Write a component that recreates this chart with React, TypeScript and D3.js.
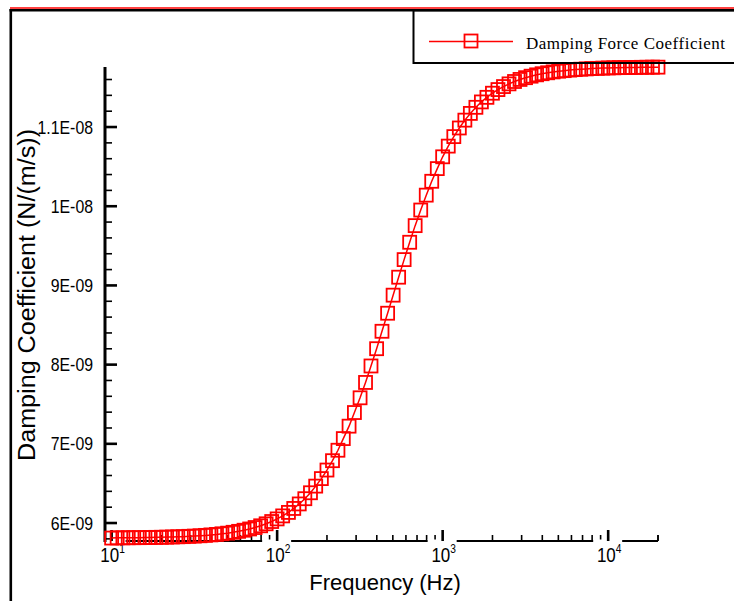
import React from "react";
import * as d3 from "d3";

// frequency (Hz) of each sample
const frequencies = [
  10, 10.8, 11.7, 12.6, 13.6, 14.7, 15.9, 17.1, 18.5, 20.0,
  21.5, 23.3, 25.1, 27.1, 29.3, 31.6, 34.2, 36.9, 39.8, 43.0,
  46.4, 50.2, 54.2, 58.5, 63.1, 68.2, 73.6, 79.5, 85.8, 92.7,
  100, 108, 117, 126, 136, 147, 159, 171, 185, 200,
  216, 233, 251, 272, 293, 317, 342, 369, 399, 430,
  465, 502, 542, 585, 632, 682, 737, 796, 859, 928,
  1000, 1081, 1168, 1261, 1362, 1470, 1588, 1714, 1851, 1999,
  2158, 2331, 2517, 2717, 2934, 3169, 3421, 3694, 3989, 4308,
  4651, 5023, 5423, 5856, 6324, 6828, 7373, 7962, 8597, 9283,
  10022, 10822, 11686, 12618, 13625, 14712, 15886, 17154, 18523, 20000,
];

// damping coefficient, in 1E-09 N/(m/s)
const damping = [
  5.81, 5.813, 5.813, 5.814, 5.815, 5.815, 5.816, 5.817, 5.819, 5.82,
  5.822, 5.824, 5.826, 5.828, 5.832, 5.835, 5.839, 5.844, 5.85, 5.856,
  5.864, 5.872, 5.883, 5.895, 5.909, 5.925, 5.943, 5.965, 5.99, 6.019,
  6.052, 6.09, 6.134, 6.184, 6.241, 6.307, 6.382, 6.466, 6.561, 6.669,
  6.787, 6.919, 7.066, 7.223, 7.395, 7.581, 7.775, 7.983, 8.201, 8.421,
  8.649, 8.877, 9.104, 9.326, 9.545, 9.755, 9.952, 10.14, 10.315, 10.475,
  10.624, 10.759, 10.879, 10.988, 11.087, 11.172, 11.249, 11.317, 11.375, 11.427,
  11.473, 11.511, 11.545, 11.575, 11.601, 11.623, 11.642, 11.659, 11.673, 11.685,
  11.696, 11.705, 11.712, 11.719, 11.725, 11.73, 11.734, 11.738, 11.741, 11.744,
  11.746, 11.748, 11.75, 11.751, 11.752, 11.753, 11.754, 11.755, 11.756, 11.756,
];

const yTickValues = [6e-9, 7e-9, 8e-9, 9e-9, 1e-8, 1.1e-8];
const yTickLabels = ["6E-09", "7E-09", "8E-09", "9E-09", "1E-08", "1.1E-08"];
const xDecades = [10, 100, 1000, 10000];
const xDecadeExponents = ["1", "2", "3", "4"];
const seriesName = "Damping Force Coefficient";
const xTitle = "Frequency (Hz)";
const yTitle = "Damping Coefficient (N/(m/s))";

const W = 734;
const H = 601;
const RED = "#ff0000";
const SANS = "'Liberation Sans', Arial, sans-serif";

export default function App() {
  const x = d3.scaleLog().domain([Math.pow(10, 0.96), 20000]).range([105, 658]);
  const y = d3.scaleLinear().domain([5.773e-9, 11.758e-9]).range([541, 67]);
  const axisY = y.range()[0];
  const axisX = x.range()[0];

  const points = frequencies.map((f, i) => ({ f, v: damping[i] * 1e-9 }));
  const line = d3
    .line<{ f: number; v: number }>()
    .x((d) => x(d.f))
    .y((d) => y(d.v));

  // minor ticks
  const xMinor: number[] = [];
  xDecades.forEach((d) => {
    for (let m = 2; m <= 9; m++) if (d * m <= 20000) xMinor.push(d * m);
  });
  const yMinor = d3
    .range(58, 118, 2)
    .map((k) => k * 1e-10)
    .filter((v) => !yTickValues.some((t) => Math.abs(t - v) < 1e-12));

  const mk = 13;

  return (
    <svg width={W} height={H} style={{ position: "absolute", left: 0, top: 0, background: "#fff" }}>
      <rect x={0} y={0} width={W} height={H} fill="#fff" />

      {/* outer frame */}
      <line x1={10} x2={W} y1={8} y2={8} stroke={RED} strokeWidth={1.5} />
      <line x1={9.5} x2={W} y1={10.3} y2={10.3} stroke="#000" strokeWidth={2.5} />
      <line x1={10.8} x2={10.8} y1={9} y2={H} stroke="#000" strokeWidth={2.6} />

      {/* x axis */}
      <line x1={axisX} x2={x.range()[1]} y1={axisY} y2={axisY} stroke="#000" strokeWidth={2.2} />
      {xMinor.map((t) => (
        <line key={"xm" + t} x1={x(t)} x2={x(t)} y1={axisY} y2={axisY - 6} stroke="#000" strokeWidth={1.6} />
      ))}
      {xDecades.map((t) => (
        <rect key={"xg" + t} x={x(t) - 15} y={axisY - 1.5} width={29} height={26} fill="#fff" />
      ))}
      {xDecades.map((t, i) => (
        <g key={"xt" + t}>
          <line x1={x(t)} x2={x(t)} y1={axisY} y2={axisY - 11} stroke="#000" strokeWidth={2.6} />
          <text
            transform={`translate(${x(t) + 1},562) scale(0.85,1)`}
            textAnchor="middle"
            fontFamily={SANS}
            fontSize={20}
            fill="#000"
          >
            10
            <tspan fontSize={12} dy={-9}>{xDecadeExponents[i]}</tspan>
          </text>
        </g>
      ))}
      <line x1={658} x2={658} y1={axisY} y2={axisY - 6} stroke="#000" strokeWidth={1.6} />
      <text x={385} y={590} textAnchor="middle" fontFamily={SANS} fontSize={22} fill="#000">
        {xTitle}
      </text>

      {/* y axis */}
      <line x1={axisX} x2={axisX} y1={y.range()[1]} y2={axisY + 1} stroke="#000" strokeWidth={3} />
      {yMinor.map((t) => (
        <line key={"ym" + t} x1={axisX} x2={axisX + 7} y1={y(t)} y2={y(t)} stroke="#000" strokeWidth={1.6} />
      ))}
      {yTickValues.map((t, i) => (
        <g key={"yt" + t}>
          <line x1={axisX} x2={axisX + 12} y1={y(t)} y2={y(t)} stroke="#000" strokeWidth={2.6} />
          <text
            transform={`translate(93,${y(t)}) scale(0.88,1)`}
            dy="0.36em"
            textAnchor="end"
            fontFamily={SANS}
            fontSize={18}
            fill="#000"
          >
            {yTickLabels[i]}
          </text>
        </g>
      ))}
      <text
        transform="translate(35,295) rotate(-90)"
        textAnchor="middle"
        fontFamily={SANS}
        fontSize={23}
        textLength={332}
        lengthAdjust="spacingAndGlyphs"
        fill="#000"
      >
        {yTitle}
      </text>

      {/* series */}
      <path d={line(points) || ""} fill="none" stroke={RED} strokeWidth={1.5} />
      {points.map((d, i) => (
        <rect
          key={"p" + i}
          x={x(d.f) - mk / 2}
          y={y(d.v) - mk / 2}
          width={mk}
          height={mk}
          fill="none"
          stroke={RED}
          strokeWidth={1.8}
        />
      ))}

      {/* legend */}
      <rect x={413.5} y={10.3} width={W} height={52.7} fill="none" stroke="#000" strokeWidth={2} />
      <line x1={429} x2={513} y1={41.5} y2={41.5} stroke={RED} strokeWidth={1.5} />
      <rect x={471 - mk / 2} y={41 - mk / 2} width={mk} height={mk} fill="none" stroke={RED} strokeWidth={1.8} />
      <text
        x={526}
        y={49}
        fontFamily="'Liberation Serif', 'Times New Roman', serif"
        fontSize={17}
        textLength={199}
        lengthAdjust="spacing"
        fill="#000"
      >
        {seriesName}
      </text>
    </svg>
  );
}
